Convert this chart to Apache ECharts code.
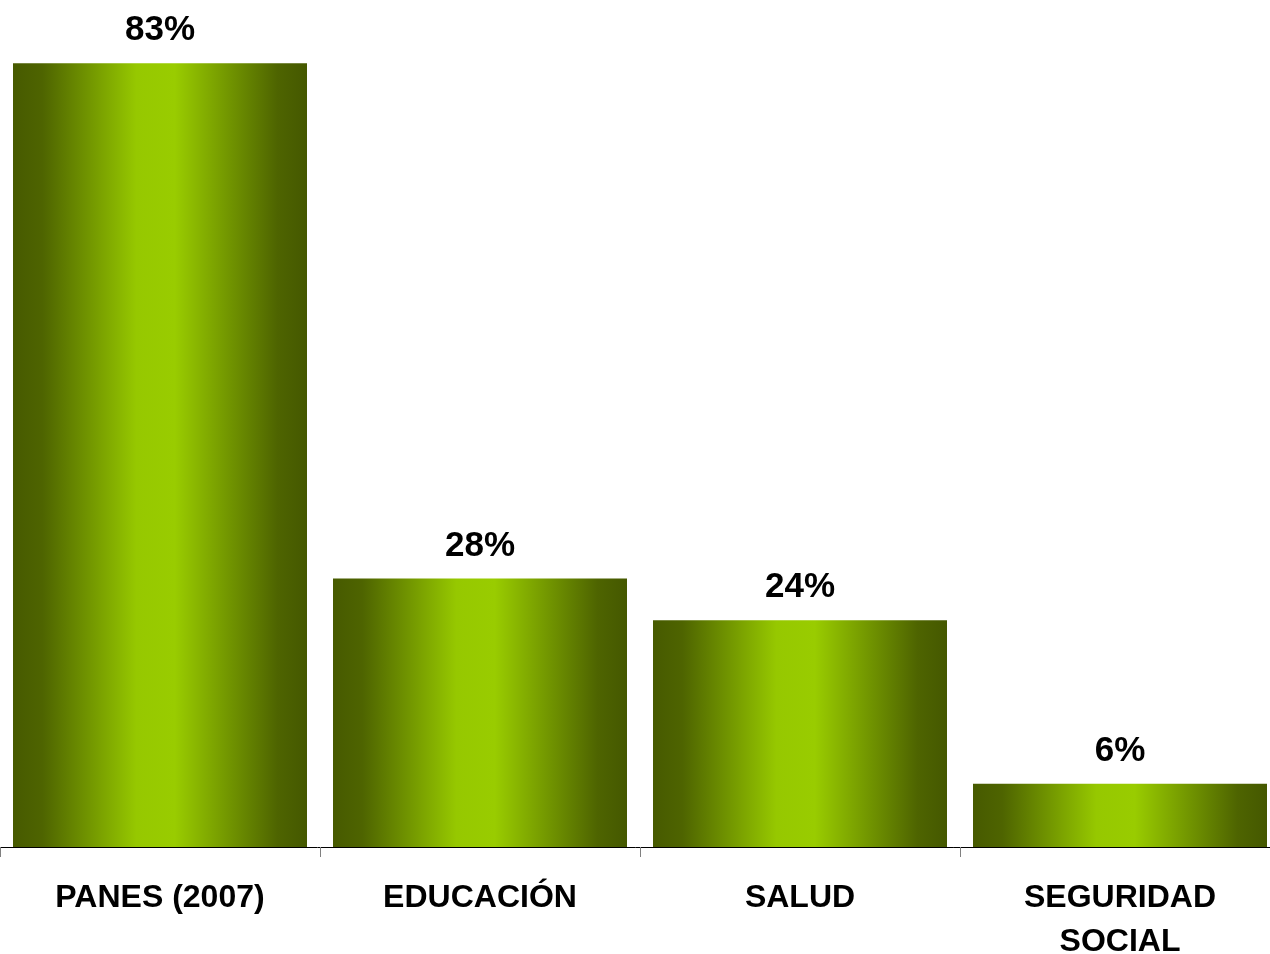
<!DOCTYPE html>
<html>
<head>
<meta charset="utf-8">
<script src="https://cdn.jsdelivr.net/npm/echarts@6/dist/echarts.min.js"></script>
<style>
  html, body { margin: 0; padding: 0; background: #fff; }
  #chart { width: 1270px; height: 954px; }
</style>
</head>
<body>
<div id="chart"></div>
<script>
// categorias y valores (% estimados del gráfico)
let categories = ["PANES (2007)", "EDUCACIÓN", "SALUD", "SEGURIDAD\nSOCIAL"];
let values = [82.9, 28.4, 24.0, 6.7];
let valueLabels = ["83%", "28%", "24%", "6%"];

let chart = echarts.init(document.getElementById("chart"));

// degradado horizontal de las barras: oscuro en bordes, verde claro al centro
let barGradient = new echarts.graphic.LinearGradient(0, 0, 1, 0, [
  { offset: 0, color: "#475a00" },
  { offset: 0.1, color: "#4e6400" },
  { offset: 0.42, color: "#96c800" },
  { offset: 0.55, color: "#99cc00" },
  { offset: 0.9, color: "#4e6400" },
  { offset: 1, color: "#455800" }
]);

let option = {
  animation: false,
  grid: {
    left: 0,
    right: -10,
    top: 0,
    bottom: 107,
    containLabel: false,
    outerBoundsMode: "none"
  },
  xAxis: {
    type: "category",
    data: categories,
    axisLine: { lineStyle: { color: "#000", width: 1 } },
    axisTick: { show: true, length: 10, lineStyle: { color: "#808080" } },
    axisLabel: {
      color: "#000",
      fontFamily: "Liberation Sans",
      fontWeight: "bold",
      fontSize: 32,
      lineHeight: 44,
      margin: 29,
      interval: 0
    }
  },
  yAxis: {
    type: "value",
    min: 0,
    max: 89.6,
    show: false,
    splitLine: { show: false }
  },
  series: [{
    type: "bar",
    data: values,
    barWidth: 294,
    itemStyle: { color: barGradient },
    label: {
      show: true,
      position: "top",
      distance: 15,
      color: "#000",
      fontFamily: "Liberation Sans",
      fontWeight: "bold",
      fontSize: 35,
      formatter: function (p) { return valueLabels[p.dataIndex]; }
    }
  }]
};

chart.setOption(option, true);
</script>
</body>
</html>
